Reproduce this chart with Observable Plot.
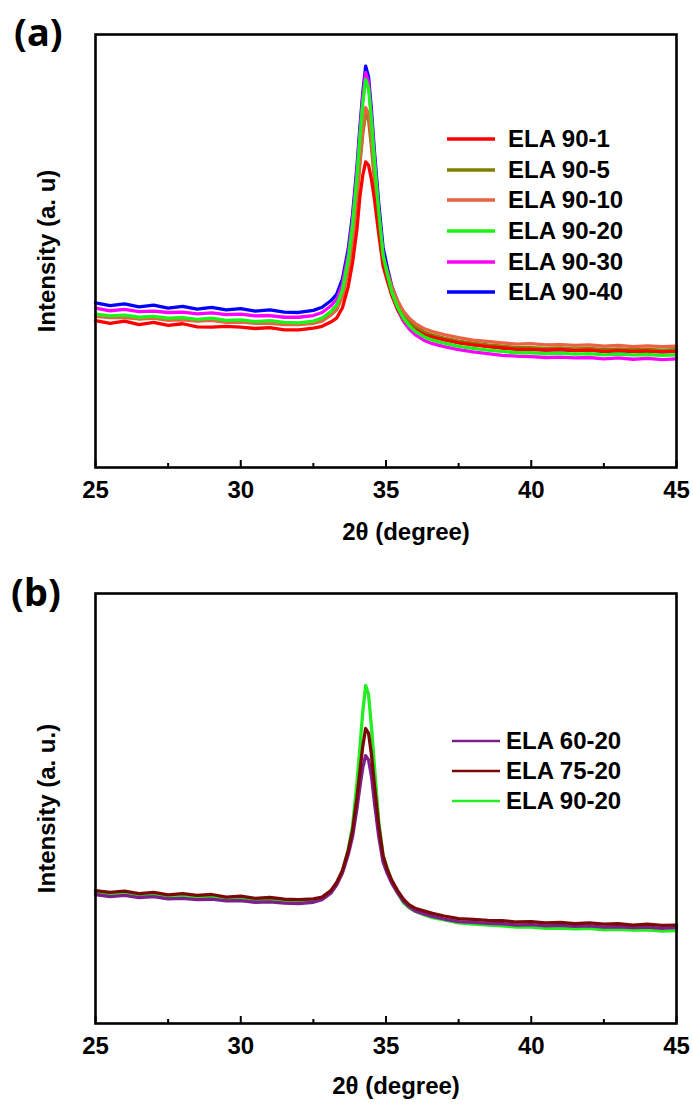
<!DOCTYPE html>
<html>
<head>
<meta charset="utf-8">
<script src="https://cdn.jsdelivr.net/npm/d3@7"></script>
<script src="https://cdn.jsdelivr.net/npm/@observablehq/plot@0.6"></script>
<style>
  html, body { margin: 0; padding: 0; background: #fff; }
  #wrap { position: relative; width: 693px; height: 1107px; font-family: "Liberation Sans", Arial, sans-serif; }
  .panel { position: absolute; left: 0; }
  .tag { position: absolute; font-family: "Noto Sans", "Open Sans", sans-serif; font-weight: bold; font-size: 38px; line-height: 1; }
  .leg { position: absolute; display: flex; align-items: center; height: 30px; font-weight: bold; font-size: 24px; white-space: nowrap; }
</style>
</head>
<body>
<div id="wrap"></div>
<script>
// 2θ positions shared by every series
const twoTheta = [25, 25.5, 26, 26.5, 27, 27.5, 28, 28.5, 29, 29.5, 30, 30.5, 31, 31.5, 32, 32.5,
  32.8, 33.1, 33.3, 33.5, 33.7, 33.85, 34.0, 34.1, 34.2, 34.3, 34.4, 34.5, 34.6, 34.75, 34.9, 35.05,
  35.2, 35.4, 35.6, 35.8, 36.0, 36.3, 36.6, 37, 37.5, 38, 38.5, 39, 39.5, 40, 40.5, 41, 41.5, 42,
  42.5, 43, 43.5, 44, 44.5, 45];

// panel (a) series (intensity, a.u.)
const ela90_1 = [33.9, 33.3, 33.8, 33.0, 33.5, 32.8, 33.2, 32.5, 32.4, 32.6, 32.4, 32.1, 32.3, 31.8, 31.8, 32.2,
  32.6, 33.6, 34.5, 36.9, 41.8, 47.4, 55.0, 62.5, 67.5, 70.6, 69.8, 66.5, 62.0, 54.0, 46.5, 43.0,
  39.7, 36.5, 34.3, 32.9, 31.8, 30.7, 30.1, 29.5, 28.8, 28.3, 27.9, 27.6, 27.3, 27.3, 27.1, 27.2, 27.0, 27.1,
  26.8, 27.0, 26.8, 26.9, 26.7, 26.8];
const ela90_5 = [35.1, 34.8, 34.9, 34.4, 34.6, 34.2, 34.3, 33.9, 34.2, 33.7, 33.8, 33.4, 33.6, 33.2, 33.1, 33.5,
  34.0, 35.3, 36.5, 39.6, 45.7, 52.6, 62.2, 70.0, 77.0, 81.8, 80.3, 74.0, 66.5, 56.2, 47.6, 44.0,
  40.7, 37.6, 35.3, 33.7, 32.5, 31.3, 30.6, 29.9, 29.2, 28.7, 28.3, 28.0, 27.7, 27.7, 27.5, 27.6, 27.4, 27.5,
  27.2, 27.4, 27.2, 27.3, 27.1, 27.2];
const ela90_10 = [34.9, 34.6, 34.6, 34.3, 34.5, 34.0, 34.1, 33.8, 34.0, 33.5, 33.6, 33.3, 33.3, 33.0, 33.0, 33.3,
  33.8, 35.2, 36.5, 39.6, 45.9, 53.1, 62.9, 71.0, 78.1, 83.1, 81.7, 75.5, 67.9, 57.4, 48.7, 45.1,
  41.7, 38.5, 36.1, 34.5, 33.3, 32.1, 31.4, 30.7, 30.0, 29.4, 29.1, 28.8, 28.5, 28.6, 28.3, 28.4, 28.2, 28.3,
  28.0, 28.2, 27.9, 28.1, 27.9, 28.0];
const ela90_20 = [35.4, 35.0, 35.2, 34.7, 34.9, 34.5, 34.6, 34.2, 34.5, 34.0, 34.1, 33.7, 33.9, 33.5, 33.4, 33.8,
  34.5, 36.0, 37.5, 41.0, 48.0, 56.0, 67.0, 76.0, 84.0, 89.6, 87.5, 80.0, 71.0, 59.0, 49.0, 44.5,
  40.5, 37.0, 34.5, 32.8, 31.5, 30.2, 29.4, 28.7, 28.0, 27.5, 27.1, 26.8, 26.5, 26.5, 26.3, 26.4, 26.2, 26.3,
  26.0, 26.2, 26.0, 26.1, 25.9, 26.0];
const ela90_30 = [36.8, 36.2, 36.5, 36.0, 36.1, 35.8, 35.9, 35.5, 35.7, 35.3, 35.4, 35.0, 35.1, 34.7, 34.7, 35.1,
  35.8, 37.3, 38.8, 42.3, 49.3, 57.3, 68.3, 77.3, 85.5, 91.2, 88.9, 81.0, 71.6, 59.2, 48.9, 44.2,
  40.0, 36.4, 33.8, 32.0, 30.7, 29.4, 28.6, 27.9, 27.2, 26.7, 26.3, 25.9, 25.7, 25.6, 25.4, 25.5, 25.3, 25.4,
  25.1, 25.3, 25.0, 25.2, 24.9, 25.1];
const ela90_40 = [38.0, 37.4, 37.8, 37.1, 37.5, 36.8, 37.2, 36.6, 37.0, 36.4, 36.7, 36.1, 36.4, 35.9, 35.8, 36.3,
  37.0, 38.5, 40.0, 43.5, 50.5, 58.5, 69.5, 78.5, 86.5, 92.7, 90.2, 82.4, 73.2, 61.0, 50.8, 46.0,
  41.9, 38.3, 35.7, 33.9, 32.5, 31.2, 30.4, 29.7, 28.9, 28.4, 28.1, 27.6, 27.4, 27.3, 27.1, 27.2, 27.0, 27.1,
  26.8, 27.0, 26.8, 26.9, 26.7, 26.8];

// panel (b) series
const ela60_20 = [30.0, 29.5, 29.8, 29.3, 29.5, 29.0, 29.1, 28.8, 28.9, 28.5, 28.6, 28.2, 28.3, 28.0, 27.9, 28.2,
  28.8, 30.3, 32.2, 35.0, 39.3, 43.5, 50.0, 55.0, 59.5, 62.3, 61.3, 57.5, 51.5, 43.5, 37.5, 34.8,
  32.6, 30.4, 28.4, 27.1, 26.2, 25.5, 24.9, 24.3, 23.7, 23.5, 23.3, 23.2, 22.9, 23.0, 22.7, 22.8, 22.6, 22.7,
  22.4, 22.5, 22.3, 22.4, 22.1, 22.3];
const ela75_20 = [30.9, 30.5, 30.8, 30.2, 30.5, 29.9, 30.2, 29.8, 30.0, 29.4, 29.6, 29.1, 29.3, 28.9, 28.8, 29.0,
  29.4, 30.9, 32.8, 35.6, 40.2, 45.0, 52.5, 58.5, 64.5, 68.6, 67.5, 62.5, 55.5, 46.0, 39.0, 35.7,
  33.3, 30.9, 28.9, 27.6, 26.8, 26.2, 25.6, 25.0, 24.4, 24.2, 24.0, 23.9, 23.6, 23.7, 23.4, 23.5, 23.2, 23.4,
  23.1, 23.2, 22.9, 23.1, 22.8, 22.9];
const ela90_20b = [30.4, 29.9, 30.2, 29.7, 29.9, 29.4, 29.6, 29.2, 29.4, 28.9, 29.0, 28.6, 28.7, 28.3, 28.2, 28.5,
  29.0, 30.5, 32.5, 35.5, 40.5, 46.0, 56.0, 64.0, 72.5, 78.6, 76.5, 69.0, 60.0, 47.0, 39.0, 36.0,
  33.0, 30.3, 28.1, 26.9, 26.1, 25.3, 24.6, 24.1, 23.4, 23.1, 22.9, 22.7, 22.4, 22.4, 22.1, 22.2, 22.0, 22.1,
  21.8, 21.9, 21.7, 21.8, 21.5, 21.6];

const majorTicks = [25, 30, 35, 40, 45];
const minorTicks = [27.5, 32.5, 37.5, 42.5];

const seriesA = [
  {name: "ELA 90-40", values: ela90_40, color: "#0000ff"},
  {name: "ELA 90-30", values: ela90_30, color: "#ff00ff"},
  {name: "ELA 90-5",  values: ela90_5,  color: "#808000"},
  {name: "ELA 90-10", values: ela90_10, color: "#ea6244"},
  {name: "ELA 90-1",  values: ela90_1,  color: "#ff0000"},
  {name: "ELA 90-20", values: ela90_20, color: "#19f519"}
];
const legendA = ["ELA 90-1", "ELA 90-5", "ELA 90-10", "ELA 90-20", "ELA 90-30", "ELA 90-40"];
const seriesB = [
  {name: "ELA 90-20", values: ela90_20b, color: "#22ee22"},
  {name: "ELA 60-20", values: ela60_20, color: "#7f1f8c"},
  {name: "ELA 75-20", values: ela75_20, color: "#7a0a0a"}
];
const legendB = ["ELA 60-20", "ELA 75-20", "ELA 90-20"];

const W = 693;
function panel(series, ylabel, opts) {
  const plotH = opts.height - opts.top - opts.bottom;
  const marks = [];
  for (const s of series) {
    const data = twoTheta.map((x, i) => ({x, y: s.values[i]}));
    marks.push(Plot.line(data, {x: "x", y: "y", stroke: s.color, strokeWidth: 3.3, strokeLinejoin: "round"}));
  }
  marks.push(
    Plot.frame({stroke: "black", strokeWidth: 2.6}),
    Plot.tickX(majorTicks, {x: d => d, insetTop: plotH - 7, stroke: "black", strokeWidth: 2}),
    Plot.tickX(minorTicks, {x: d => d, insetTop: plotH - 4, stroke: "black", strokeWidth: 2}),
    Plot.axisX({ticks: majorTicks, tickSize: 0, tickPadding: 13, tickFormat: d => String(d), fontSize: 24, fontWeight: "bold", label: null}),
    Plot.text(["2θ (degree)"], {frameAnchor: "bottom", dy: opts.titleDy, dx: opts.titleDx, text: d => d, fontSize: 24, fontWeight: "bold", fill: "black"}),
    Plot.text([ylabel], {frameAnchor: "left", textAnchor: "middle", dx: -48, rotate: -90, text: d => d, fontSize: 24, fontWeight: "bold", fill: "black"})
  );
  return Plot.plot({
    width: W, height: opts.height,
    marginLeft: 95, marginRight: 17, marginTop: opts.top, marginBottom: opts.bottom,
    x: {domain: [25, 45]},
    y: {domain: [0, 100], axis: null},
    style: {fontFamily: "'Liberation Sans', Arial, sans-serif", color: "black", background: "white", overflow: "visible"},
    marks
  });
}

const wrap = document.getElementById("wrap");
const pa = panel(seriesA, "Intensity (a. u)", {height: 560, top: 34, bottom: 93, titleDy: 72, titleDx: 20});
pa.classList.add("panel"); pa.style.top = "0px";
wrap.appendChild(pa);
const pb = panel(seriesB, "Intensity (a. u.)", {height: 547, top: 33, bottom: 84, titleDy: 70, titleDx: 10});
pb.classList.add("panel"); pb.style.top = "560px";
wrap.appendChild(pb);

function tag(text, left, top) {
  const d = document.createElement("div");
  d.className = "tag"; d.textContent = text;
  d.style.left = left + "px"; d.style.top = top + "px";
  wrap.appendChild(d);
}
tag("(a)", 14, 12);
tag("(b)", 11, 572);

function legend(names, series, left, rows, lineW, gap, sw) {
  names.forEach((n, i) => {
    const s = series.find(t => t.name === n);
    const row = document.createElement("div");
    row.className = "leg";
    row.style.left = left + "px";
    row.style.top = (rows[i] - 15) + "px";
    row.innerHTML = `<svg width="${lineW}" height="6" style="margin-right:${gap}px"><line x1="0" x2="${lineW}" y1="3" y2="3" stroke="${s.color}" stroke-width="${sw}" stroke-linecap="round"/></svg><span>${n}</span>`;
    wrap.appendChild(row);
  });
}
legend(legendA, seriesA, 447, [139, 170, 200, 231, 262, 292], 48, 13, 3.4);
legend(legendB, seriesB, 452, [741, 771, 801], 48, 6, 2.6);
</script>
</body>
</html>
